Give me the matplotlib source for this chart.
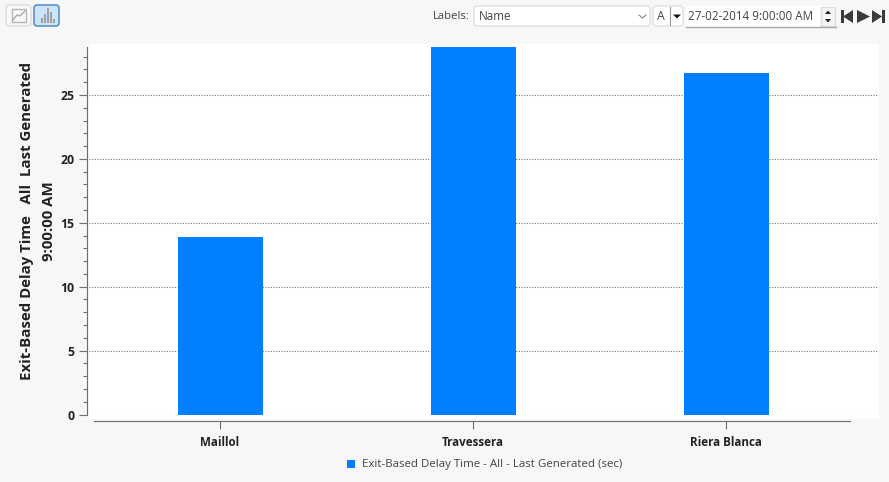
import matplotlib
matplotlib.use('Agg')
import matplotlib.pyplot as plt
from matplotlib.patches import Rectangle, FancyBboxPatch, Polygon
from matplotlib.lines import Line2D
from matplotlib.ticker import MultipleLocator

categories = ['Maillol', 'Travessera', 'Riera Blanca']
delay_values = [13.9, 28.75, 26.75]
y_ticks = [0, 5, 10, 15, 20, 25]
legend_label = 'Exit-Based Delay Time - All - Last Generated (sec)'
y_label = 'Exit-Based Delay Time   All  Last Generated\n9:00:00 AM'

W, H = 889, 482
BLUE = '#007fff'
GREY = '#6e6e6e'
TEXT = '#222222'
UI_TEXT = '#444444'

plt.rcParams['font.family'] = ['Open Sans', 'DejaVu Sans']

fig = plt.figure(figsize=(W / 100, H / 100), dpi=100, facecolor='#f7f7f7')


def fx(x):
    return x / W


def fy(y):
    return 1 - y / H


def box(x, y, w, h, fc='white', ec='#dddddd', lw=1.0, rounded=False, zorder=1):
    if rounded:
        p = FancyBboxPatch((x, H - y - h), w, h, boxstyle='round,pad=0,rounding_size=3',
                           fc=fc, ec=ec, lw=lw, transform=px, zorder=zorder)
    else:
        p = Rectangle((x, H - y - h), w, h, fc=fc, ec=ec, lw=lw, transform=px, zorder=zorder)
    bg.add_patch(p)


def tri(points, color='#333333'):
    bg.add_patch(Polygon([(x, H - y) for x, y in points], closed=True, fc=color, ec='none', transform=px))


# full figure layer in pixels, for the white plot panel and the toolbar
bg = fig.add_axes([0, 0, 1, 1], zorder=0)
bg.set_xlim(0, W)
bg.set_ylim(0, H)
bg.axis('off')
px = bg.transData
box(89, 44, 790, 375, ec='none', lw=0)

# toolbar buttons
box(6, 5, 25, 21, fc='#f9f9f9', ec='#dcdcdc', rounded=True)
box(34, 5, 25, 21, fc='#cce4f7', ec='#5b93c7', lw=1.2, rounded=True)
box(12, 9, 14, 13, fc='none', ec='#b5b5b5')
bg.add_line(Line2D([13, 17, 20, 25], [H - 20, H - 15, H - 16, H - 11], color='#a8a8a8', lw=1))
for bar_x, bar_h in zip([41, 44, 47, 50, 53], [5, 9, 15, 11, 4]):
    box(bar_x, 23 - bar_h, 2, bar_h, fc='#a0a0a0', ec='none', lw=0)

# labels combo, font button, date box
bg.text(433, H - 16.5, 'Labels:', fontsize=8.1, color=UI_TEXT, va='center', ha='left')
box(474, 6, 176, 20, ec='#e0e0e0', rounded=True)
bg.text(479, H - 16.5, 'Name', fontsize=8.4, color=UI_TEXT, va='center', ha='left')
bg.add_line(Line2D([639, 642.5, 646], [H - 15, H - 18, H - 15], color='#888888', lw=0.8))
box(653, 6, 30, 20, ec='#e0e0e0', rounded=True)
bg.text(657, H - 16.5, 'A', fontsize=8.8, color=UI_TEXT, va='center', ha='left')
bg.add_line(Line2D([670, 670], [H - 7, H - 25], color='#999999', lw=0.8))
tri([(673, 14.5), (681, 14.5), (677, 18.5)], '#111111')
box(686, 6, 150, 21, ec='none', lw=0)
bg.add_line(Line2D([686, 836], [H - 27, H - 27], color='#a8a8a8', lw=1))
bg.text(688, H - 16.5, '27-02-2014 9:00:00 AM', fontsize=8.4, color=UI_TEXT, va='center', ha='left')
box(821, 7, 14, 19, fc='#f4f4f4', ec='#dddddd')
tri([(825, 14), (831, 14), (828, 10.5)], '#222222')
tri([(825, 19), (831, 19), (828, 22.5)], '#222222')
box(841, 10, 2.5, 13, fc='#3a3a3a', ec='none', lw=0)
tri([(853, 10), (853, 23), (843, 16.5)], '#3a3a3a')
tri([(857, 10), (857, 23), (870, 16.5)], '#3a3a3a')
tri([(872, 10), (872, 23), (882, 16.5)], '#3a3a3a')
box(882, 10, 2.5, 13, fc='#3a3a3a', ec='none', lw=0)

# chart axes: 253 px per category, first category centred at x=220
ax = fig.add_axes([fx(89), fy(414.5), fx(790), (414.5 - 47) / H], zorder=1)
ax.patch.set_alpha(0)
ax.bar(categories, delay_values, width=85 / 253, color=BLUE, zorder=3)
ax.set_xlim((89 - 220) / 253, (879 - 220) / 253)
ax.set_ylim(0, 28.76)

ax.set_yticks(y_ticks)
ax.yaxis.set_minor_locator(MultipleLocator(1))
ax.grid(axis='y', which='major', color='#777777', linestyle=(0, (1, 1.4)), linewidth=0.8, zorder=1)
ax.set_axisbelow(True)

for side in ('top', 'right'):
    ax.spines[side].set_visible(False)
ax.spines['left'].set_position(('outward', 1.5))
ax.spines['left'].set_color(GREY)
ax.spines['bottom'].set_position(('outward', 4.5))
ax.spines['bottom'].set_bounds(-0.5, 2.49)
ax.spines['bottom'].set_color(GREY)
ax.tick_params(axis='y', which='major', length=5.5, width=0.8, color=GREY, pad=3.5, labelsize=8.8, labelcolor=TEXT)
ax.tick_params(axis='y', which='minor', length=3, width=0.8, color=GREY)
ax.tick_params(axis='x', length=6, width=0.8, color=GREY, pad=5, labelsize=8.4, labelcolor=TEXT)
for label in ax.get_xticklabels() + ax.get_yticklabels():
    label.set_fontweight('bold')

fig.text(fx(38), fy(221), y_label, rotation=90, ha='center', va='center', ma='center',
         fontsize=10.8, fontweight='bold', color=TEXT, linespacing=1.7)

# legend
box(347, 460, 8, 8, fc=BLUE, ec='none', lw=0)
bg.text(362, H - 464, legend_label, fontsize=8.25, color=UI_TEXT, va='center', ha='left')

fig.savefig('out.png', dpi=100, facecolor=fig.get_facecolor())
